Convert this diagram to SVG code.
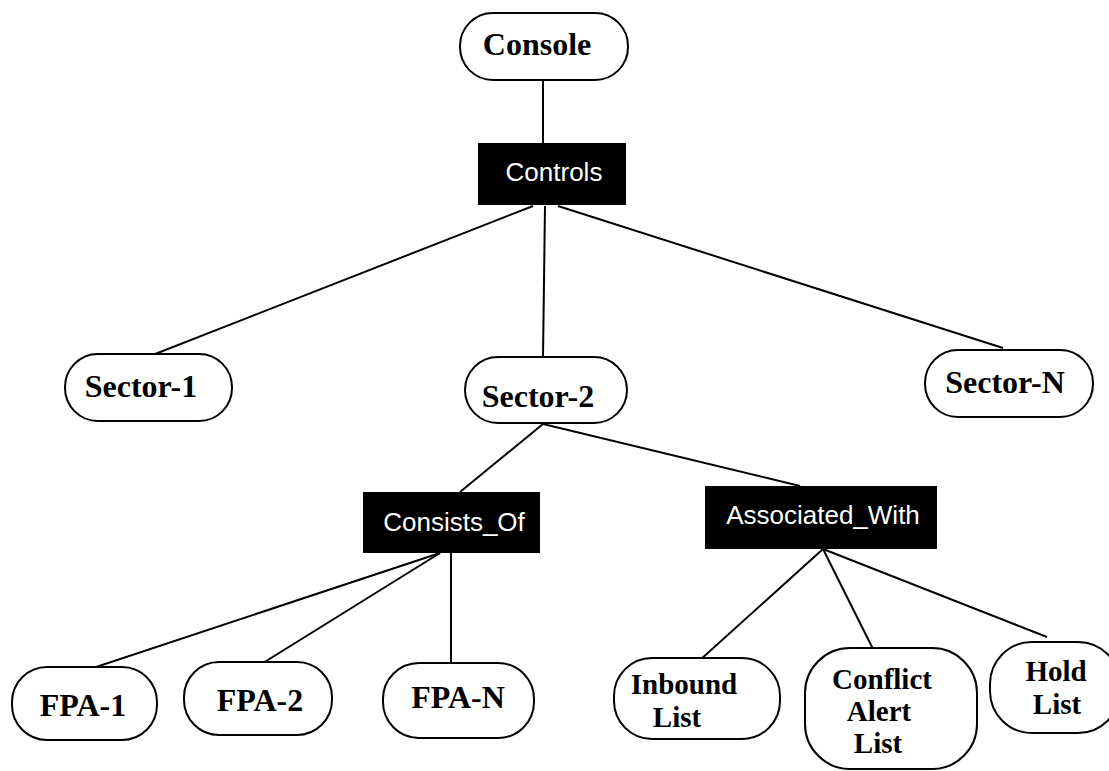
<svg xmlns="http://www.w3.org/2000/svg" width="1109" height="771" viewBox="0 0 1109 771">
<style>
.n{fill:#fff;stroke:#000;stroke-width:2}
.r{fill:#000;stroke:none}
.t{font-family:"Liberation Serif","Times New Roman",serif;font-weight:bold;font-size:32px;fill:#000;text-anchor:middle}
.m{font-size:29px}
.w{font-family:"Liberation Sans",Arial,sans-serif;font-size:26px;fill:#fff;text-anchor:middle}
.c{stroke:#000;stroke-width:2;fill:none}
</style>
<rect width="1109" height="771" fill="#fff"/>
<g id="connectors" class="c">
<line x1="543" y1="80" x2="543" y2="143"/>
<line x1="533" y1="206" x2="150" y2="356"/>
<line x1="545" y1="206" x2="543" y2="357"/>
<line x1="558" y1="206" x2="1003" y2="348"/>
<line x1="543" y1="424" x2="460" y2="492"/>
<line x1="543" y1="424" x2="800" y2="486"/>
<line x1="440" y1="553" x2="90" y2="669"/>
<line x1="440" y1="553" x2="263" y2="663"/>
<line x1="451" y1="553" x2="451" y2="663"/>
<line x1="823" y1="549" x2="700" y2="660"/>
<line x1="823" y1="549" x2="873" y2="649"/>
<line x1="823" y1="549" x2="1047" y2="637"/>
</g>
<g id="console"><rect class="n" x="460" y="13" width="168" height="67" rx="33"/><text class="t" x="537" y="55">Console</text></g>
<g id="controls"><rect class="r" x="478" y="143" width="148" height="62"/><text class="w" x="554" y="181" font-size="27">Controls</text></g>
<g id="sector1"><rect class="n" x="65" y="354" width="167" height="67" rx="33"/><text class="t" x="141" y="397">Sector-1</text></g>
<g id="sector2"><rect class="n" x="465" y="357" width="162" height="66" rx="33"/><text class="t" x="538" y="407">Sector-2</text></g>
<g id="sectorN"><rect class="n" x="925" y="350" width="168" height="67" rx="33"/><text class="t" x="1005" y="393">Sector-N</text></g>
<g id="consists"><rect class="r" x="363" y="492" width="177" height="61"/><text class="w" x="454" y="531">Consists_Of</text></g>
<g id="associated"><rect class="r" x="705" y="486" width="232" height="63"/><text class="w" x="823" y="524">Associated_With</text></g>
<g id="fpa1"><rect class="n" x="12" y="667" width="145" height="73" rx="35"/><text class="t" x="83" y="716">FPA-1</text></g>
<g id="fpa2"><rect class="n" x="184" y="662" width="148" height="73" rx="35"/><text class="t" x="260" y="711">FPA-2</text></g>
<g id="fpaN"><rect class="n" x="383" y="663" width="151" height="75" rx="36"/><text class="t" x="458" y="708">FPA-N</text></g>
<g id="inbound"><rect class="n" x="614" y="658" width="166" height="81" rx="38"/><text class="t m" x="684" y="694">Inbound</text><text class="t m" x="677" y="727">List</text></g>
<g id="conflict"><rect class="n" x="805" y="648" width="172" height="121" rx="45"/><text class="t m" x="882" y="689">Conflict</text><text class="t m" x="879" y="721">Alert</text><text class="t m" x="878" y="753">List</text></g>
<g id="hold"><rect class="n" x="990" y="642" width="130" height="91" rx="42"/><text class="t m" x="1056" y="681">Hold</text><text class="t m" x="1057" y="714">List</text></g>
</svg>
